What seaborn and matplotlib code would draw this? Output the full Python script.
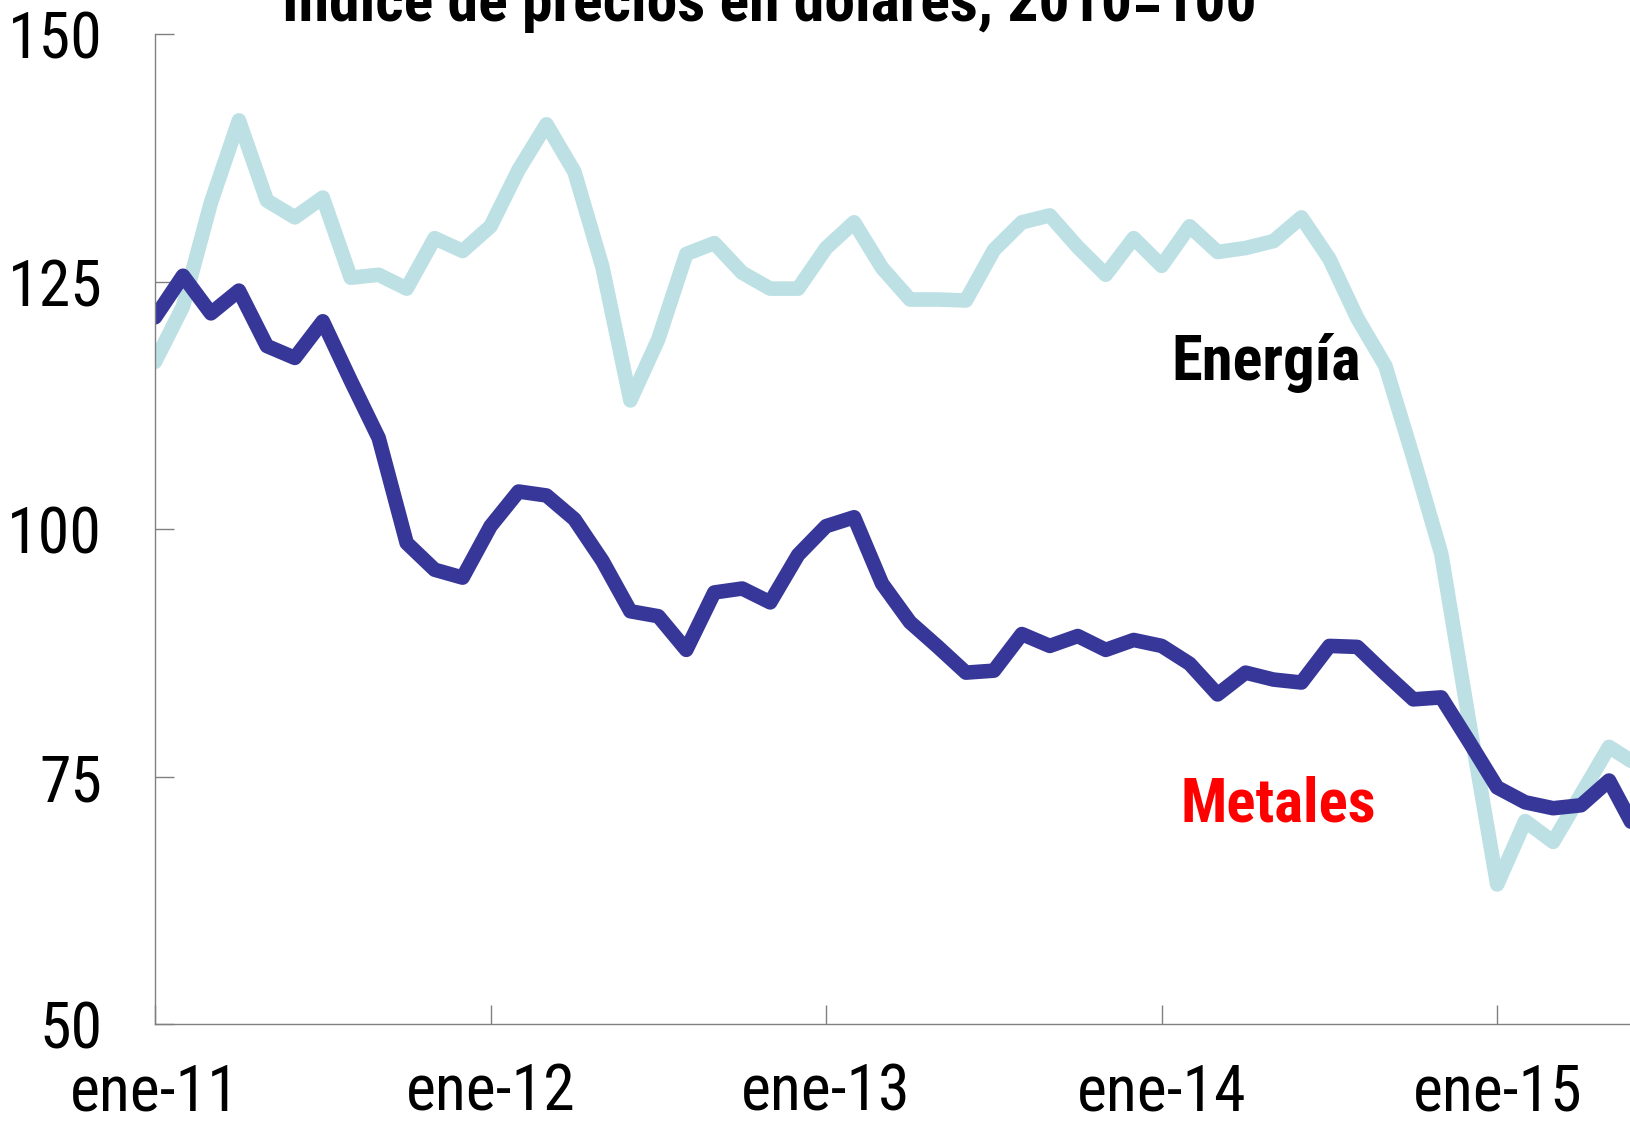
import matplotlib
matplotlib.use("Agg")
import matplotlib.pyplot as plt
from matplotlib import font_manager
import pandas as pd
import seaborn as sns

# indices mensuales en dolares (2010=100), ene-11 .. jun-15
meses = list(range(54))
energia = [116.9, 122.5, 133.0, 141.3, 133.2, 131.5, 133.5, 125.4, 125.7, 124.3,
           129.4, 128.1, 130.6, 136.3, 140.9, 136.1, 126.5, 113.0, 119.2, 127.8,
           128.9, 125.9, 124.3, 124.3, 128.4, 131.0, 126.4, 123.2, 123.2, 123.1,
           128.2, 131.0, 131.7, 128.5, 125.7, 129.4, 126.6, 130.6, 128.0, 128.4,
           129.1, 131.5, 127.3, 121.3, 116.5, 107.2, 97.5, 80.5, 64.1, 70.5,
           68.4, 73.2, 78.0, 76.2]
metales = [121.4, 125.6, 121.8, 124.1, 118.5, 117.3, 121.0, 115.0, 109.2, 98.6,
           95.9, 95.1, 100.3, 103.8, 103.4, 101.0, 96.8, 91.7, 91.2, 87.8,
           93.6, 94.0, 92.6, 97.4, 100.3, 101.2, 94.5, 90.6, 88.1, 85.5,
           85.7, 89.4, 88.2, 89.2, 87.8, 88.8, 88.2, 86.4, 83.3, 85.5,
           84.8, 84.5, 88.2, 88.1, 85.4, 82.8, 83.0, 78.5, 73.9, 72.4,
           71.8, 72.1, 74.6, 69.3]
ticks_x = [0, 12, 24, 36, 48]
etiquetas_x = ["ene-11", "ene-12", "ene-13", "ene-14", "ene-15"]
ticks_y = [50, 75, 100, 125, 150]

sns.set_style("ticks")

# fuente angosta si hay alguna; si no, Liberation Sans un poco mas chica
instaladas = {f.name for f in font_manager.fontManager.ttflist}
angosta = None
for nombre in ["Liberation Sans Narrow", "Arial Narrow", "Roboto Condensed",
               "Noto Sans Condensed", "Open Sans Condensed", "DejaVu Sans Condensed"]:
    if nombre in instaladas:
        angosta = nombre
        break
if angosta:
    plt.rcParams["font.family"] = [angosta, "DejaVu Sans"]
    escala = 1.0
else:
    plt.rcParams["font.family"] = ["Liberation Sans", "DejaVu Sans"]
    escala = 0.87

df = pd.DataFrame({"mes": meses, "Energía": energia, "Metales": metales})

fig = plt.figure(figsize=(16.30, 11.27), dpi=100)
ax = fig.add_axes([0.0951, 0.0914, 0.9092, 0.8782])

sns.lineplot(data=df, x="mes", y="Energía", ax=ax, color="#bce0e4")
sns.lineplot(data=df, x="mes", y="Metales", ax=ax, color="#373799")
# grosor fijado despues, por si seaborn lo cambia
for linea in ax.get_lines():
    linea.set_linewidth(10.5)
    linea.set_solid_joinstyle("round")

ax.set_xlim(0, 53)
ax.set_ylim(50, 150)
ax.set_xticks(ticks_x)
ax.set_xticklabels(etiquetas_x)
ax.set_yticks(ticks_y)
ax.set_xlabel("")
ax.set_ylabel("")

sns.despine(ax=ax)
for lado in ["left", "bottom"]:
    ax.spines[lado].set_color("#808080")
    ax.spines[lado].set_linewidth(1.0)

ax.tick_params(axis="both", direction="in", length=14, width=1.0, color="#808080",
               labelsize=46 * escala, labelcolor="black")
ax.tick_params(axis="x", pad=27)
ax.tick_params(axis="y", pad=38)

ax.text(36.35, 115.1, "Energía", fontsize=45 * escala, fontweight="bold",
        color="black", ha="left", va="baseline")
ax.text(36.66, 70.5, "Metales", fontsize=44 * escala, fontweight="bold",
        color="red", ha="left", va="baseline")

fig.text(0.472, 0.981, "Índice de precios en dólares, 2010=100",
         fontsize=44.5 * escala, fontweight="bold", color="black",
         ha="center", va="baseline")

fig.savefig("out.png", dpi=100)
